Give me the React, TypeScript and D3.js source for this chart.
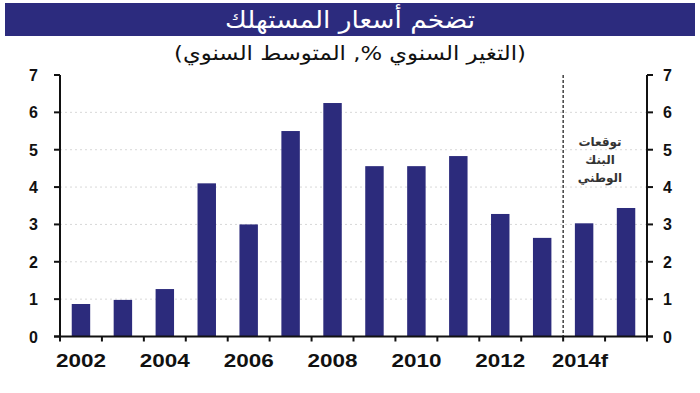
import { useEffect, useRef } from 'react';
import * as d3 from 'd3';

const years = ['2002', '2003', '2004', '2005', '2006', '2007', '2008', '2009', '2010', '2011', '2012', '2013', '2014', '2015'];
const inflation = [0.87, 0.98, 1.27, 4.1, 3.0, 5.5, 6.25, 4.56, 4.56, 4.83, 3.28, 2.64, 3.03, 3.44];
const yearLabels: Record<string, string> = { '2002': '2002', '2004': '2004', '2006': '2006', '2008': '2008', '2010': '2010', '2012': '2012', '2014': '2014f' };
const yTicks = [0, 1, 2, 3, 4, 5, 6, 7];
const gridValues = [1, 2, 3, 4, 5, 6];
const forecastStart = '2014';
const title = 'تضخم أسعار المستهلك';
const subtitle = '(التغير السنوي %, المتوسط السنوي)';
const noteLines = ['توقعات', 'البنك', 'الوطني'];

const BAR = '#2c2b7c';

const App = () => {
  const svgRef = useRef<SVGSVGElement>(null);

  useEffect(() => {
    if (!svgRef.current) return;
    const svg = d3.select(svgRef.current);
    svg.selectAll('*').remove();

    const width = 700;
    const height = 393;
    const margin = { top: 75, right: 53, bottom: 57, left: 60 };

    const x = d3.scaleBand<string>()
      .domain(years)
      .range([margin.left, width - margin.right])
      .paddingInner(0.56)
      .paddingOuter(0.28);

    const y = d3.scaleLinear()
      .domain([0, 7])
      .range([height - margin.bottom + 0.5, margin.top]);

    svg.append('rect').attr('width', width).attr('height', height).attr('fill', '#fff');

    // banner
    svg.append('rect')
      .attr('x', 5).attr('y', 3).attr('width', 690).attr('height', 33)
      .attr('fill', '#2c2b7e');
    svg.append('text')
      .attr('x', width / 2).attr('y', 28)
      .attr('text-anchor', 'middle')
      .attr('direction', 'rtl')
      .attr('fill', '#fff')
      .attr('font-family', '"DejaVu Sans", sans-serif')
      .attr('font-size', 24)
      .attr('textLength', 250)
      .attr('lengthAdjust', 'spacingAndGlyphs')
      .text(title);

    svg.append('text')
      .attr('x', width / 2).attr('y', 60)
      .attr('text-anchor', 'middle')
      .attr('direction', 'rtl')
      .attr('fill', '#111')
      .attr('font-family', '"DejaVu Sans", sans-serif')
      .attr('font-size', 20)
      .attr('textLength', 352)
      .attr('lengthAdjust', 'spacingAndGlyphs')
      .text(subtitle);

    // grid
    svg.append('g')
      .selectAll('line')
      .data(gridValues)
      .enter()
      .append('line')
      .attr('x1', margin.left).attr('x2', width - margin.right)
      .attr('y1', d => y(d)).attr('y2', d => y(d))
      .attr('stroke', '#d8d8d8')
      .attr('stroke-width', 1)
      .attr('stroke-dasharray', '2,3');

    // bars
    svg.append('g')
      .selectAll('rect')
      .data(inflation)
      .enter()
      .append('rect')
      .attr('x', (d, i) => x(years[i])!)
      .attr('y', d => y(d))
      .attr('width', x.bandwidth())
      .attr('height', d => y(0) - y(d))
      .attr('fill', BAR);

    // forecast divider, on the tick between 2013 and 2014
    const step = x.step();
    const divX = x(forecastStart)! - (step - x.bandwidth()) / 2;
    svg.append('line')
      .attr('x1', divX).attr('x2', divX)
      .attr('y1', y(7)).attr('y2', y(0))
      .attr('stroke', '#111')
      .attr('stroke-width', 1.2)
      .attr('stroke-dasharray', '3,2');

    const note = svg.append('text')
      .attr('x', 600).attr('y', 146)
      .attr('text-anchor', 'middle')
      .attr('direction', 'rtl')
      .attr('fill', '#333')
      .attr('font-family', '"DejaVu Sans", sans-serif')
      .attr('font-size', 12)
      .attr('font-weight', 'bold');
    noteLines.forEach((l, i) => {
      note.append('tspan').attr('x', 600).attr('dy', i === 0 ? 0 : 18).text(l);
    });

    const x0 = margin.left;
    const x1 = width - margin.right;
    const numFont = 'Arial, "Liberation Sans", sans-serif';

    // left axis
    const left = svg.append('g');
    left.append('line')
      .attr('x1', x0).attr('x2', x0).attr('y1', y(7)).attr('y2', y(0))
      .attr('stroke', '#111').attr('stroke-width', 2);
    yTicks.forEach(t => {
      left.append('line')
        .attr('x1', x0 - 6).attr('x2', x0).attr('y1', y(t)).attr('y2', y(t))
        .attr('stroke', '#111').attr('stroke-width', 2);
      left.append('text')
        .attr('x', 38).attr('y', y(t) + 6)
        .attr('text-anchor', 'end')
        .attr('font-family', numFont)
        .attr('font-size', 16)
        .attr('font-weight', 'bold')
        .attr('fill', '#111')
        .text(t);
    });

    // right axis
    const right = svg.append('g');
    right.append('line')
      .attr('x1', x1).attr('x2', x1).attr('y1', y(7)).attr('y2', y(0))
      .attr('stroke', '#111').attr('stroke-width', 2);
    yTicks.forEach(t => {
      right.append('line')
        .attr('x1', x1).attr('x2', x1 + 6).attr('y1', y(t)).attr('y2', y(t))
        .attr('stroke', '#111').attr('stroke-width', 2);
      right.append('text')
        .attr('x', 663).attr('y', y(t) + 6)
        .attr('text-anchor', 'start')
        .attr('font-family', numFont)
        .attr('font-size', 16)
        .attr('font-weight', 'bold')
        .attr('fill', '#111')
        .text(t);
    });

    // bottom axis
    const bottom = svg.append('g');
    bottom.append('line')
      .attr('x1', x0 - 6).attr('x2', x1 + 6).attr('y1', y(0)).attr('y2', y(0))
      .attr('stroke', '#111').attr('stroke-width', 2);
    const tickXs = years.map(yr => x(yr)! - (step - x.bandwidth()) / 2).concat([x1]);
    tickXs.forEach(tx => {
      bottom.append('line')
        .attr('x1', tx).attr('x2', tx).attr('y1', y(0)).attr('y2', y(0) + 5)
        .attr('stroke', '#111').attr('stroke-width', 2);
    });
    years.forEach(yr => {
      const label = yearLabels[yr];
      if (!label) return;
      const digits = label.replace(/[^0-9]/g, '').length;
      const isForecast = label.length > digits;
      bottom.append('text')
        .attr('x', x(yr)! + x.bandwidth() / 2 - (isForecast ? 4 : 0))
        .attr('y', y(0) + 30)
        .attr('text-anchor', 'middle')
        .attr('font-family', numFont)
        .attr('font-size', 18)
        .attr('font-weight', 'bold')
        .attr('fill', '#111')
        .attr('textLength', digits * 12.5 + (isForecast ? 6 : 0))
        .attr('lengthAdjust', 'spacingAndGlyphs')
        .text(label);
    });
  }, []);

  return (
    <svg ref={svgRef} width={700} height={393} viewBox="0 0 700 393"
      style={{ position: 'absolute', left: 0, top: 0, display: 'block' }} />
  );
};

export default App;
